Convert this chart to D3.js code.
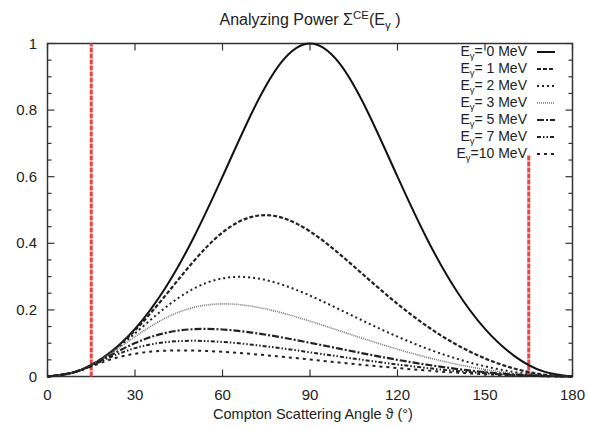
<!DOCTYPE html>
<html lang="en">
<head>
<meta charset="UTF-8">
<script src="https://d3js.org/d3.v7.min.js"></script>
<title>Analyzing Power</title>
<style>
  body { margin: 0; background: #fff; }
  text { font-family: "Liberation Sans", Arial, sans-serif; fill: #222; }
</style>
</head>
<body>
<svg id="chart" width="589" height="430"></svg>
<script>
// scattering angles (deg)
var angles = [0, 10, 20, 30, 40, 50, 60, 70, 80, 90, 100, 110, 120, 130, 140, 150, 160, 170, 180];
var energies = [0, 1, 2, 3, 5, 7, 10];

var e0  = [0, 0.0153, 0.0621, 0.1429, 0.2604, 0.4153, 0.6000, 0.7906, 0.9415, 1.0000, 0.9415, 0.7906, 0.6000, 0.4153, 0.2604, 0.1429, 0.0621, 0.0153, 0];
var e1  = [0, 0.0153, 0.0617, 0.1385, 0.2387, 0.3450, 0.4325, 0.4794, 0.4779, 0.4357, 0.3687, 0.2925, 0.2181, 0.1518, 0.0968, 0.0542, 0.0239, 0.0060, 0];
var e2  = [0, 0.0153, 0.0607, 0.1295, 0.2041, 0.2634, 0.2947, 0.2971, 0.2771, 0.2429, 0.2019, 0.1597, 0.1197, 0.0841, 0.0542, 0.0306, 0.0136, 0.0034, 0];
var e3  = [0, 0.0153, 0.0592, 0.1193, 0.1735, 0.2071, 0.2181, 0.2110, 0.1920, 0.1662, 0.1376, 0.1089, 0.0819, 0.0578, 0.0374, 0.0212, 0.0095, 0.0024, 0];
var e5  = [0, 0.0152, 0.0557, 0.1003, 0.1299, 0.1421, 0.1412, 0.1320, 0.1179, 0.1012, 0.0837, 0.0663, 0.0500, 0.0355, 0.0231, 0.0131, 0.0059, 0.0015, 0];
var e7  = [0, 0.0150, 0.0518, 0.0851, 0.1025, 0.1072, 0.1038, 0.0957, 0.0848, 0.0726, 0.0600, 0.0476, 0.0360, 0.0256, 0.0166, 0.0095, 0.0043, 0.0011, 0];
var e10 = [0, 0.0148, 0.0464, 0.0685, 0.0773, 0.0779, 0.0741, 0.0676, 0.0596, 0.0510, 0.0421, 0.0334, 0.0253, 0.0180, 0.0117, 0.0067, 0.0030, 0.0008, 0];

var seriesValues = [e0, e1, e2, e3, e5, e7, e10];
var dashes = ["", "4,2", "2,3", "1,1", "7,2,2,2", "4,2,1.5,2,1.5,2", "3,4"];
var colors = ["#111", "#222", "#222", "#777", "#222", "#222", "#222"];
var widths = [2, 2.2, 2, 1.6, 2.2, 2, 2];

var cutLeft = 15, cutRight = 165, cutRightTop = 0.665;
var xTicks = [0, 30, 60, 90, 120, 150, 180];
var yTicks = [0, 0.2, 0.4, 0.6, 0.8, 1];

var svg = d3.select("#chart");
var m = { left: 47.5, right: 572.5, top: 43.5, bottom: 376.5 };

var x = d3.scaleLinear().domain([0, 180]).range([m.left, m.right]);
var y = d3.scaleLinear().domain([0, 1]).range([m.bottom, m.top]);

// frame
svg.append("rect")
  .attr("x", m.left).attr("y", m.top)
  .attr("width", m.right - m.left).attr("height", m.bottom - m.top)
  .attr("fill", "none").attr("stroke", "#333").attr("stroke-width", 1.5);

// ticks pointing inward
var g = svg.append("g").attr("stroke", "#333").attr("stroke-width", 1.2);
xTicks.forEach(function(t) {
  g.append("line").attr("x1", x(t)).attr("x2", x(t)).attr("y1", m.bottom).attr("y2", m.bottom - 7);
  g.append("line").attr("x1", x(t)).attr("x2", x(t)).attr("y1", m.top).attr("y2", m.top + 7);
});
d3.range(0, 1.001, 0.05).forEach(function(t) {
  var major = Math.abs(t * 5 - Math.round(t * 5)) < 1e-6;
  var len = major ? 7 : 4;
  g.append("line").attr("x1", m.left).attr("x2", m.left + len).attr("y1", y(t)).attr("y2", y(t));
  g.append("line").attr("x1", m.right).attr("x2", m.right - len).attr("y1", y(t)).attr("y2", y(t));
});

// tick labels
svg.selectAll(".xl").data(xTicks).enter().append("text")
  .attr("x", function(d) { return x(d); }).attr("y", 400)
  .attr("text-anchor", "middle").attr("font-size", 15).text(function(d) { return d; });
svg.selectAll(".yl").data(yTicks).enter().append("text")
  .attr("x", 37).attr("y", function(d) { return y(d) + 5; })
  .attr("text-anchor", "end").attr("font-size", 15).text(function(d) { return d; });

// red cut lines
svg.append("line")
  .attr("x1", x(cutLeft)).attr("x2", x(cutLeft)).attr("y1", y(0)).attr("y2", y(1))
  .attr("stroke", "#e84545").attr("stroke-width", 3).attr("stroke-dasharray", "5,1");
svg.append("line")
  .attr("x1", x(cutRight)).attr("x2", x(cutRight)).attr("y1", y(0)).attr("y2", y(cutRightTop))
  .attr("stroke", "#e84545").attr("stroke-width", 3).attr("stroke-dasharray", "5,1");

// curves
var line = d3.line()
  .x(function(d, i) { return x(angles[i]); })
  .y(function(d) { return y(d); })
  .curve(d3.curveNatural);

seriesValues.forEach(function(vals, i) {
  svg.append("path").datum(vals)
    .attr("d", line)
    .attr("fill", "none")
    .attr("stroke", colors[i])
    .attr("stroke-width", widths[i])
    .attr("stroke-dasharray", dashes[i] || null);
});

// legend
energies.forEach(function(e, i) {
  var ly = 52 + i * 17;
  var t = svg.append("text").attr("x", 527).attr("y", ly + 4)
    .attr("text-anchor", "end").attr("font-size", 14);
  t.append("tspan").text("E");
  t.append("tspan").attr("font-size", 9.5).attr("dy", 3).text("γ");
  t.append("tspan").attr("dy", -3).text(e < 10 ? "= " + e + " MeV" : "=" + e + " MeV");
  svg.append("line")
    .attr("x1", 537).attr("x2", 555).attr("y1", ly).attr("y2", ly)
    .attr("stroke", colors[i]).attr("stroke-width", widths[i])
    .attr("stroke-dasharray", dashes[i] || null);
});

// title
var title = svg.append("text").attr("x", 310).attr("y", 25)
  .attr("text-anchor", "middle").attr("font-size", 16);
title.append("tspan").text("Analyzing Power Σ");
title.append("tspan").attr("font-size", 11.5).attr("dy", -6).text("CE");
title.append("tspan").attr("dy", 6).text("(E");
title.append("tspan").attr("font-size", 11.5).attr("dy", 4).text("γ");
title.append("tspan").attr("dy", -4).text(" )");

// axis label
svg.append("text").attr("x", 313).attr("y", 419)
  .attr("text-anchor", "middle").attr("font-size", 14.5)
  .text("Compton Scattering Angle ϑ (°)");
</script>
</body>
</html>
